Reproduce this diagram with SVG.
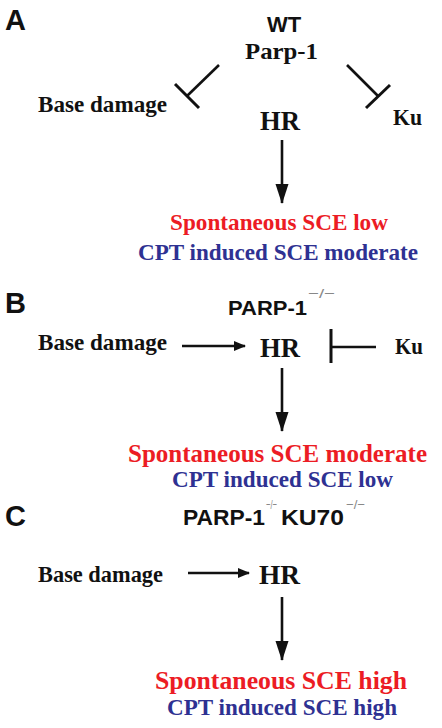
<svg xmlns="http://www.w3.org/2000/svg" width="442" height="728" viewBox="0 0 442 728">
<style>
.lbl{font-family:"Liberation Sans",Arial,sans-serif;font-weight:bold;font-size:29px;fill:#111}
.sans{font-family:"Liberation Sans",Arial,sans-serif;font-weight:bold;font-size:21px;fill:#111}
.sup{font-family:"Liberation Sans",Arial,sans-serif;font-size:13px;fill:#888}
.ser{font-family:"Liberation Serif","Times New Roman",serif;font-weight:bold;font-size:23px;fill:#111}
.hr{font-family:"Liberation Serif","Times New Roman",serif;font-weight:bold;font-size:27px;fill:#111}
.red{font-family:"Liberation Serif","Times New Roman",serif;font-weight:bold;font-size:23px;fill:#ec1c24}
.blue{font-family:"Liberation Serif","Times New Roman",serif;font-weight:bold;font-size:23px;fill:#2e3192}
.ln{stroke:#111;stroke-width:2.6;fill:none}
.bar{stroke:#111;stroke-width:3;fill:none}
</style>
<defs>
<marker id="ah" markerWidth="12" markerHeight="10" refX="11" refY="5" orient="auto" markerUnits="userSpaceOnUse">
<path d="M0,0 L12,5 L0,10 Z" fill="#111"/>
</marker>
<marker id="ahv" markerWidth="20" markerHeight="14" refX="19" refY="7" orient="auto" markerUnits="userSpaceOnUse">
<path d="M0,0.5 L20,7 L0,13.5 Z" fill="#111"/>
</marker>
</defs>

<g id="panelA">
<text class="lbl" x="5" y="30">A</text>
<g id="A_wt"><text class="sans" x="284" y="32" text-anchor="middle" style="font-size:22px">WT</text>
<text class="ser" x="245" y="59" textLength="73" lengthAdjust="spacingAndGlyphs">Parp-1</text></g>
<g id="A_base"><text class="ser" x="38" y="112" textLength="129" lengthAdjust="spacingAndGlyphs">Base damage</text></g>
<g id="A_hr"><text class="hr" x="260" y="130" textLength="40" lengthAdjust="spacingAndGlyphs">HR</text></g>
<g id="A_ku"><text class="ser" x="393" y="125" textLength="29" lengthAdjust="spacingAndGlyphs">Ku</text></g>
<g id="A_out"><text class="red" x="170" y="230" textLength="218" lengthAdjust="spacingAndGlyphs">Spontaneous SCE low</text>
<text class="blue" x="138" y="260" textLength="280" lengthAdjust="spacingAndGlyphs">CPT induced SCE moderate</text></g>
</g>

<g id="panelB">
<text class="lbl" x="5" y="313">B</text>
<g id="B_parp"><text class="sans" x="228" y="315" textLength="79" lengthAdjust="spacingAndGlyphs">PARP-1</text>
<text class="sup" x="308" y="298" textLength="27" lengthAdjust="spacingAndGlyphs">−/−</text></g>
<g id="B_base"><text class="ser" x="38" y="350" textLength="129" lengthAdjust="spacingAndGlyphs">Base damage</text></g>
<g id="B_hr"><text class="hr" x="260" y="357" textLength="40" lengthAdjust="spacingAndGlyphs">HR</text></g>
<g id="B_ku"><text class="ser" x="395" y="354" textLength="28" lengthAdjust="spacingAndGlyphs">Ku</text></g>
<g id="B_out"><text class="red" x="128" y="462" textLength="299" lengthAdjust="spacingAndGlyphs" style="font-size:25px">Spontaneous SCE moderate</text>
<text class="blue" x="172" y="487" textLength="221" lengthAdjust="spacingAndGlyphs">CPT induced SCE low</text></g>
</g>

<g id="panelC">
<text class="lbl" x="5" y="526">C</text>
<g id="C_parp"><text class="sans" x="183" y="525" textLength="82" lengthAdjust="spacingAndGlyphs" style="font-size:22px">PARP-1</text>
<text class="sup" x="266" y="509" textLength="11" lengthAdjust="spacingAndGlyphs">−/−</text>
<text class="sans" x="281" y="525" textLength="63" lengthAdjust="spacingAndGlyphs" style="font-size:22px">KU70</text>
<text class="sup" x="346" y="509" textLength="19" lengthAdjust="spacingAndGlyphs">−/−</text></g>
<g id="C_base"><text class="ser" x="38" y="582" textLength="125" lengthAdjust="spacingAndGlyphs">Base damage</text></g>
<g id="C_hr"><text class="hr" x="259" y="584" textLength="41" lengthAdjust="spacingAndGlyphs">HR</text></g>
<g id="C_out"><text class="red" x="155" y="689" textLength="252" lengthAdjust="spacingAndGlyphs" style="font-size:26px">Spontaneous SCE high</text>
<text class="blue" x="167" y="715" textLength="230" lengthAdjust="spacingAndGlyphs">CPT induced SCE high</text></g>
</g>

<g id="connectors">
<line class="ln" x1="219" y1="65" x2="187" y2="96"/>
<line class="bar" x1="175" y1="84" x2="199" y2="108"/>
<line class="ln" x1="347" y1="65" x2="378" y2="96"/>
<line class="bar" x1="366" y1="108" x2="390" y2="85"/>
<line class="ln" x1="282" y1="140" x2="282" y2="203" marker-end="url(#ahv)"/>

<line class="ln" x1="182" y1="346" x2="245" y2="346" marker-end="url(#ah)"/>
<line class="bar" x1="331" y1="329" x2="331" y2="363"/>
<line class="ln" x1="331" y1="347" x2="376" y2="347"/>
<line class="ln" x1="282" y1="368" x2="282" y2="431" marker-end="url(#ahv)"/>

<line class="ln" x1="188" y1="573" x2="249" y2="573" marker-end="url(#ah)"/>
<line class="ln" x1="282" y1="597" x2="282" y2="660" marker-end="url(#ahv)"/>
</g>
</svg>
